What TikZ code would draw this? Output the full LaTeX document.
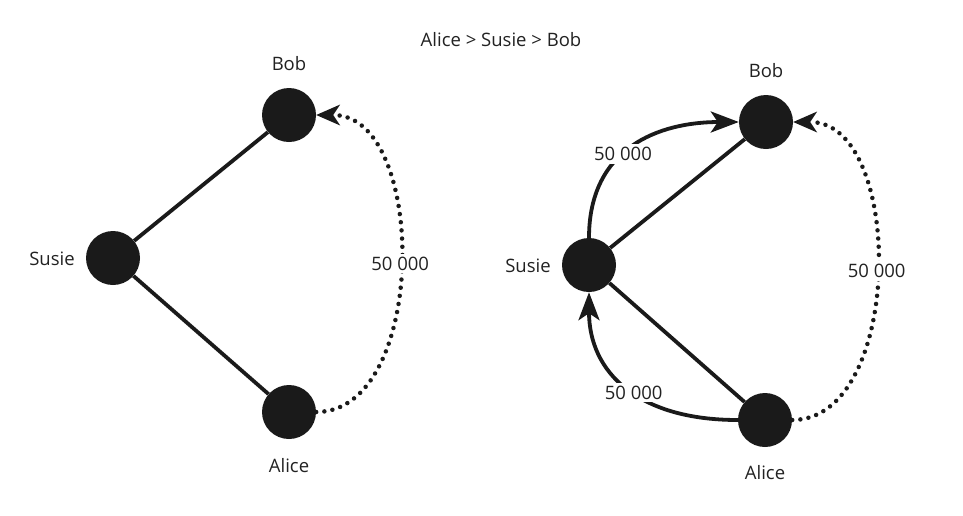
\documentclass[tikz,border=0pt]{standalone}
\usepackage{fontspec}
\setmainfont{Open Sans}
\usetikzlibrary{arrows.meta}
\definecolor{dot}{HTML}{1A1A1A}
\definecolor{txt}{HTML}{222222}
\tikzset{
  vert/.style={circle,fill=dot,minimum size=54pt,inner sep=0pt},
  lbl/.style={font=\fontsize{18.5}{22}\selectfont,text=txt,inner sep=1pt},
  edge/.style={line width=3.8pt,draw=dot},
  payarrow/.style={line width=3.8pt,draw=dot,-{Stealth[length=28pt,width=21pt,inset=7pt]}},
  dottedarrow/.style={line width=4.5pt,draw=dot,line cap=round,dash pattern=on 0pt off 8.2pt,-{Stealth[length=24pt,width=21pt,inset=7pt,line cap=butt,line width=0pt]}},
  wlbl/.style={lbl,fill=white,inner sep=3pt},
}
\begin{document}
\begin{tikzpicture}[x=1pt,y=-1pt]
\useasboundingbox (0,0) rectangle (963,515);
\node[lbl] (title) at (501,40) {Alice > Susie > Bob};
% left graph
\node[vert] (bobL) at (289,115) {};
\node[vert] (susieL) at (113,258) {};
\node[vert] (aliceL) at (289,412) {};
\node[lbl] (bobLl) at (289,64) {Bob};
\node[lbl] (susieLl) at (52,259) {Susie};
\node[lbl] (aliceLl) at (289,466) {Alice};
\draw[edge] (susieL) -- (bobL);
\draw[edge] (susieL) -- (aliceL);
\draw[dottedarrow] (aliceL.east) .. controls +(112,0) and +(112,0) .. (bobL.east)
  node[pos=0.5,wlbl] (payL) {50 000};
% right graph
\node[vert] (bobR) at (766,122) {};
\node[vert] (susieR) at (589,265) {};
\node[vert] (aliceR) at (765,420) {};
\node[lbl] (bobRl) at (766,71) {Bob};
\node[lbl] (susieRl) at (528,266) {Susie};
\node[lbl] (aliceRl) at (765,473) {Alice};
\draw[edge] (susieR) -- (bobR);
\draw[edge] (susieR) -- (aliceR);
\draw[dottedarrow] (aliceR.east) .. controls +(112,0) and +(112,0) .. (bobR.east)
  node[pos=0.5,wlbl] (payR) {50 000};
\draw[payarrow] (susieR.north) .. controls +(0,-90) and +(-80,0) .. (bobR.west)
  node[pos=0.43,wlbl] (payS) {50 000};
\draw[payarrow] (aliceR.west) .. controls +(-100,0) and +(0,80) .. (susieR.south)
  node[pos=0.45,wlbl] (payA) {50 000};
\end{tikzpicture}
\end{document}
